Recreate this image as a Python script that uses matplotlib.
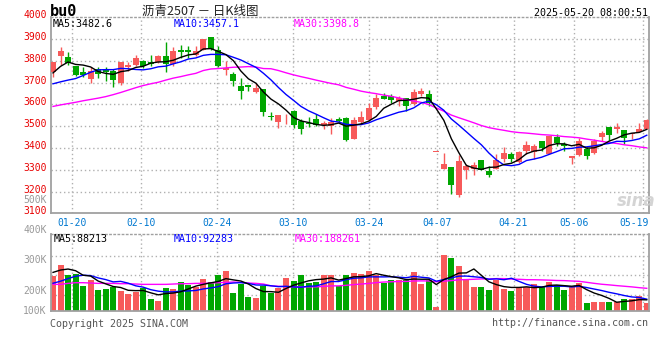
import matplotlib
matplotlib.use("Agg")
import matplotlib.pyplot as plt
import numpy as np
import pandas as pd
from matplotlib import transforms

# ---------------- data ----------------
dates = ["01-15","01-16","01-17","01-20","01-21","01-22","01-23","01-24","01-27",
         "02-05","02-06","02-07","02-10","02-11","02-12","02-13","02-14","02-17","02-18",
         "02-19","02-20","02-21","02-24","02-25","02-26","02-27","02-28",
         "03-03","03-04","03-05","03-06","03-07","03-10","03-11","03-12","03-13","03-14",
         "03-17","03-18","03-19","03-20","03-21","03-24","03-25","03-26","03-27","03-28",
         "03-31","04-01","04-02","04-03","04-07","04-08","04-09","04-10","04-11",
         "04-14","04-15","04-16","04-17","04-18","04-21","04-22","04-23","04-24","04-25",
         "04-28","04-29","04-30","05-06","05-07","05-08","05-09","05-12","05-13",
         "05-14","05-15","05-16","05-19","05-20"]

opens  = [3748,3821,3818,3775,3751,3715,3763,3760,3753,3699,3771,3783,3801,3797,3795,3824,3786,3851,3848,3829,
          3851,3912,3851,3757,3742,3683,3688,3657,3669,3545,3520,3536,3570,3525,3517,3532,3505,3502,3535,3537,
          3442,3521,3530,3589,3640,3640,3616,3632,3601,3649,3647,3383,3302,3313,3184,3298,3305,3346,3296,3305,
          3350,3372,3337,3384,3380,3430,3372,3451,3418,3356,3369,3395,3377,3451,3495,3489,3482,3464,3474,3486]
highs  = [3797,3862,3839,3778,3772,3772,3772,3772,3763,3797,3797,3829,3806,3829,3829,3885,3862,3874,3867,3867,
          3902,3912,3867,3798,3748,3722,3688,3699,3669,3566,3550,3556,3575,3532,3544,3555,3525,3540,3544,3541,
          3541,3570,3609,3647,3652,3647,3637,3632,3673,3674,3665,3383,3378,3313,3369,3328,3335,3346,3317,3372,
          3403,3383,3388,3433,3418,3430,3453,3464,3429,3363,3444,3403,3441,3479,3495,3514,3482,3471,3517,3532]
lows   = [3725,3780,3780,3730,3727,3699,3722,3707,3681,3689,3753,3775,3768,3778,3791,3748,3778,3813,3813,3821,
          3849,3852,3773,3737,3687,3623,3660,3654,3547,3529,3490,3510,3492,3464,3498,3502,3487,3464,3517,3433,
          3442,3510,3526,3579,3624,3606,3594,3571,3597,3640,3594,3383,3302,3187,3176,3256,3275,3298,3267,3305,
          3334,3337,3331,3372,3350,3388,3372,3410,3388,3327,3362,3350,3372,3433,3438,3467,3418,3441,3474,3486]
closes = [3797,3847,3791,3734,3736,3754,3742,3748,3712,3797,3780,3813,3775,3784,3824,3786,3847,3842,3839,3847,
          3900,3856,3775,3768,3707,3661,3678,3674,3566,3544,3550,3536,3505,3487,3508,3506,3514,3520,3525,3436,
          3529,3544,3583,3632,3624,3621,3629,3591,3655,3661,3609,3383,3328,3232,3339,3317,3323,3298,3278,3346,
          3377,3350,3383,3413,3407,3400,3453,3425,3410,3363,3433,3365,3433,3468,3459,3498,3444,3471,3486,3529]
# volume in thousands of lots
volumes = [296.6,388.3,305.0,313.3,213.2,263.3,179.9,188.2,202.1,171.6,146.6,166.0,193.8,104.9,88.2,199.4,
           188.2,246.6,221.6,207.7,274.4,249.4,305.0,338.3,154.9,227.1,124.3,116.0,213.2,152.1,199.4,282.7,
           255.0,305.0,241.0,249.4,305.0,305.0,213.2,305.0,321.6,313.3,338.3,305.0,238.3,263.3,263.3,263.3,
           330.0,230.0,263.3,41.0,471.7,449.5,380.0,271.6,204.9,204.9,179.9,263.3,188.2,171.6,204.9,204.9,
           230.0,204.9,246.6,221.6,179.9,204.9,238.3,71.5,79.9,79.9,79.9,79.9,104.9,104.9,129.9,71.5]

# moving-average values before enough history exists
ma5_head  = [3745,3775,3795,3784]
ma10_head = [3695,3704,3712,3719,3733,3748,3759,3760,3760]
ma30_head = [3591,3598,3604,3610,3617,3623,3629,3636,3645,3655,3666,3677,3687,3695,3702,3712,3721,
             3728,3736,3743,3756,3763,3765,3768,3771,3772,3774,3772,3765]
vma5_head  = [327.0,346.6,355.0,341.0]
vma10_head = [236.6,253.3,275.5,295.0,303.3,300.5,281.0,267.1,247.7]
vma30_head = [227.1,227.1,235.4,241.0,241.0,238.3,235.4,235.4,235.4,232.7,232.7,229.9,227.1,227.1,
              227.1,227.1,229.9,232.7,232.7,235.4,235.4,238.3,241.0,243.8,246.6,243.8,238.3,235.4,229.9]

tick_dates = ["01-20","02-10","02-24","03-10","03-24","04-07","04-21","05-06","05-19"]
price_ticks = [3100,3200,3300,3400,3500,3600,3700,3800,3900,4000]
vol_labels = ["500K","400K","300K","200K","100K"]

title = "沥青2507 － 日K线图"
symbol = "bu0"
stamp = "2025-05-20 08:00:51"
ma_price_text = ["MA5:3482.6", "MA10:3457.1", "MA30:3398.8"]
ma_vol_text = ["MA5:88213", "MA10:92283", "MA30:188261"]

# ---------------- derived ----------------
n = len(closes)
x = np.arange(n)
cl = pd.Series(closes, dtype=float)
vo = pd.Series(volumes, dtype=float)

def ma(series, w, head):
    m = series.rolling(w).mean().to_numpy()
    m[:len(head)] = head
    return m

ma5, ma10, ma30 = ma(cl, 5, ma5_head), ma(cl, 10, ma10_head), ma(cl, 30, ma30_head)
vma5, vma10, vma30 = ma(vo, 5, vma5_head), ma(vo, 10, vma10_head), ma(vo, 30, vma30_head)

# ---------------- style ----------------
RED = "#f75a5a"
GREEN = "#00a600"
BLUE = "#0000ff"
MAG = "#ff00ff"
GRID = "#b0b0b0"
AX = "#a0a0a0"
TXT_RED = "#e80000"
TXT_BLUE = "#0078d0"
MONO = "DejaVu Sans Mono"

W, H = 660, 360
fig = plt.figure(figsize=(W / 100, H / 100), dpi=100)
fig.patch.set_facecolor("white")

def fpos(l, t, r, b):
    return [l / W, 1 - b / H, (r - l) / W, (b - t) / H]

ax = fig.add_axes(fpos(51, 17.4, 649, 213.3))
axv = fig.add_axes(fpos(51, 234.3, 649, 310.7))

xl = (-0.27, 79.3)
grid_x = [dates.index(d) * 1.0122 - 0.47 for d in tick_dates]
dotted = (0, (1, 2))

for a in (ax, axv):
    a.set_xlim(*xl)
    a.set_xticks([])
    a.set_yticks([])
    for s in ("left", "bottom", "right"):
        a.spines[s].set_color(AX)
        a.spines[s].set_linewidth(1.3)
    a.spines["top"].set_color(AX)
    a.spines["top"].set_linewidth(1.0)
    a.spines["top"].set_linestyle(dotted)
    for gx in grid_x:
        a.axvline(gx, color=GRID, lw=1.0, ls=dotted, zorder=0)

# ----- price panel -----
ax.set_ylim(3100, 4000)
for p in price_ticks[1:-1]:
    ax.axhline(p, color=GRID, lw=1.0, ls=dotted, zorder=0)

up = np.array(closes) >= np.array(opens)
colors = np.where(up, RED, GREEN)
ax.vlines(x, lows, highs, colors=colors, lw=1.0, zorder=2)
body_lo = np.minimum(opens, closes)
body_h = np.maximum(np.abs(np.array(closes) - np.array(opens)), 1.5)
ax.bar(x, body_h, bottom=body_lo, width=0.8, color=colors, edgecolor=colors, lw=0, zorder=3)

ax.plot(x, ma30, color=MAG, lw=1.0, zorder=4)
ax.plot(x, ma10, color=BLUE, lw=1.0, zorder=4)
ax.plot(x, ma5, color="black", lw=1.0, zorder=4)

blend = transforms.blended_transform_factory(ax.transAxes, ax.transData)
blend_up = blend + transforms.ScaledTranslation(0, 2 / 100, fig.dpi_scale_trans)
for p in price_ticks:
    ax.text(-0.0075, p, str(p), transform=blend_up, ha="right", va="center",
            fontsize=7, family=MONO, color=TXT_RED, clip_on=False)

# x labels
blx = transforms.blended_transform_factory(ax.transData, ax.transAxes)
for d, gx in zip(tick_dates, grid_x):
    if gx > 77:
        ax.text(1.0, -0.022, d, transform=ax.transAxes, ha="right", va="top",
                fontsize=7, family=MONO, color=TXT_BLUE, clip_on=False)
    else:
        ax.text(gx, -0.022, d, transform=blx, ha="center", va="top",
                fontsize=7, family=MONO, color=TXT_BLUE, clip_on=False)

# ----- volume panel -----
vlo, vhi = 7.6, 644.5
axv.set_ylim(vlo, vhi)
for frac in (0.205, 0.467, 0.72):
    axv.axhline(vlo + frac * (vhi - vlo), color=GRID, lw=1.0, ls=dotted, zorder=0)
axv.bar(x, volumes, width=0.8, color=colors, lw=0, zorder=2)
axv.plot(x, vma30, color=MAG, lw=1.0, zorder=4)
axv.plot(x, vma10, color=BLUE, lw=1.0, zorder=4)
axv.plot(x, vma5, color="black", lw=1.0, zorder=4)

# ----- texts in pixel coordinates -----
def ptext(px, py, s, **kw):
    fig.text(px / W, 1 - py / H, s, **kw)

ptext(50, 12, symbol, fontsize=11, family=MONO, weight="bold", color="black", ha="left", va="center")
ptext(200, 11, title, fontsize=9, family=["Noto Sans CJK SC", "DejaVu Sans"], color="#222222",
      ha="center", va="center")
ptext(648, 12.5, stamp, fontsize=7.2, family=MONO, color="black", ha="right", va="center")

for s, px, c in zip(ma_price_text, (53, 174, 294), ("black", BLUE, MAG)):
    ptext(px, 24, s, fontsize=7.2, family=MONO, color=c, ha="left", va="center")
for s, px, c in zip(ma_vol_text, (54, 174, 295), ("black", BLUE, MAG)):
    ptext(px, 239, s, fontsize=7.2, family=MONO, color=c, ha="left", va="center")

for s, py in zip(vol_labels, (200, 230, 260, 290.5, 311)):
    ptext(46.5, py, s, fontsize=7, family=MONO, color="#999999", ha="right", va="center")

ptext(50, 324, "Copyright 2025 SINA.COM", fontsize=7.2, family=MONO, color="#555555", ha="left", va="center")
ptext(648, 323.5, "http://finance.sina.com.cn", fontsize=7.2, family=MONO, color="#555555",
      ha="right", va="center")

# sina watermark
ptext(636, 201, "sina", fontsize=12, family="DejaVu Sans", style="italic", weight="bold",
      color="#d0d0d0", ha="center", va="center", alpha=0.9)

fig.savefig("out.png", dpi=100, facecolor="white")
